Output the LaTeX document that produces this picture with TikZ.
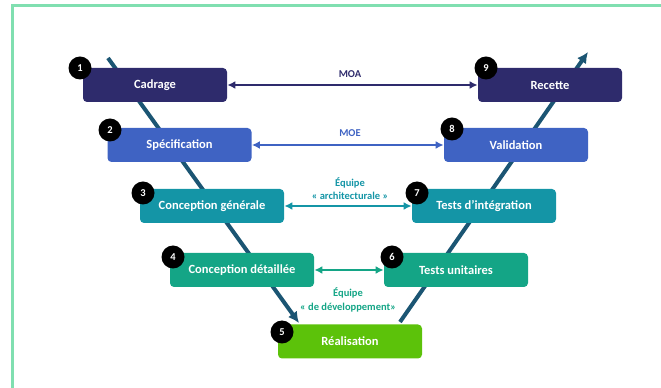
\documentclass[tikz,border=0pt]{standalone}
\usepackage{fontspec}
\setmainfont{Carlito}
\usepackage{xcolor}
\usepackage{tikz}
\usetikzlibrary{arrows.meta, positioning, calc}

\definecolor{moacol}{HTML}{2E2B6C}
\definecolor{moecol}{HTML}{3F63C3}
\definecolor{archcol}{HTML}{1495A6}
\definecolor{devcol}{HTML}{14A586}
\definecolor{realcol}{HTML}{5CC20A}
\definecolor{vcol}{HTML}{1B5573}
\definecolor{framecol}{HTML}{80DFB0}

\begin{document}
\begin{tikzpicture}[x=1pt, y=1pt, thick,
    stage/.style={rectangle, rounded corners=4pt, minimum width=144pt, minimum height=34pt, text=white, font=\fontsize{12.5}{14}\selectfont\bfseries, inner sep=0pt},
    badge/.style={circle, fill=black, text=white, minimum size=23pt, inner sep=0pt, font=\fontsize{10.5}{12}\selectfont\bfseries},
    team/.style={font=\fontsize{10.5}{13.5}\selectfont\bfseries, align=center},
    link/.style={{Latex[length=8pt,width=8pt]}-{Latex[length=8pt,width=8pt]}, line width=2pt}]
    \useasboundingbox (0,0) rectangle (661,388);

    % --- FRAME ---
    \draw[framecol, line width=3pt] (12.5,0) -- (12.5,382.5) -- (661,382.5);

    % --- V SHAPE (behind the boxes) ---
    \coordinate (vtop) at (108,330);
    \coordinate (vbot) at (299,65);
    \coordinate (wbot) at (400,66);
    \coordinate (wtop) at (588,336);
    \draw[vcol, line width=4pt, -{Latex[length=11pt,width=11pt]}] (vtop) -- (vbot);
    \draw[vcol, line width=4pt, -{Latex[length=11pt,width=11pt]}] (wbot) -- (wtop);

    % --- DESCENDING BRANCH ---
    \node (cadrage) [stage, fill=moacol] at (155,303) {Cadrage};
    \node (spec) [stage, fill=moecol] at (179.5,243) {Spécification};
    \node (cgen) [stage, fill=archcol] at (212,182) {Conception générale};
    \node (cdet) [stage, fill=devcol] at (242,118) {Conception détaillée};

    % --- BOTTOM ---
    \node (real) [stage, fill=realcol] at (350,46.5) {Réalisation};

    % --- ASCENDING BRANCH ---
    \node (tu) [stage, fill=devcol] at (456,118) {Tests unitaires};
    \node (ti) [stage, fill=archcol] at (484,182) {Tests d’intégration};
    \node (valid) [stage, fill=moecol] at (516,243) {Validation};
    \node (recette) [stage, fill=moacol] at (550,303) {Recette};

    % Numbers
    \node (n1) [badge] at (80,320) {1};
    \node (n2) [badge] at (110,258) {2};
    \node (n3) [badge] at (143,195) {3};
    \node (n4) [badge] at (173,131) {4};
    \node (n5) [badge] at (282,56) {5};
    \node (n6) [badge] at (392,131) {6};
    \node (n7) [badge] at (417,195) {7};
    \node (n8) [badge] at (452,259) {8};
    \node (n9) [badge] at (486,320) {9};

    % Links
    \draw[link, moacol] (cadrage) -- (recette);
    \draw[link, moecol] (spec) -- (valid);
    \draw[link, archcol] (cgen) -- (ti);
    \draw[link, devcol] (cdet) -- (tu);

    % Labels
    \node (moa) [team, text=moacol] at (350,314) {MOA};
    \node (moe) [team, text=moecol] at (350,255) {MOE};
    \node (arch) [team, text=archcol] at (350,199.5) {Équipe\\« architecturale »};
    \node (dev) [team, text=devcol] at (348,88) {Équipe\\« de développement»};

\end{tikzpicture}
\end{document}
